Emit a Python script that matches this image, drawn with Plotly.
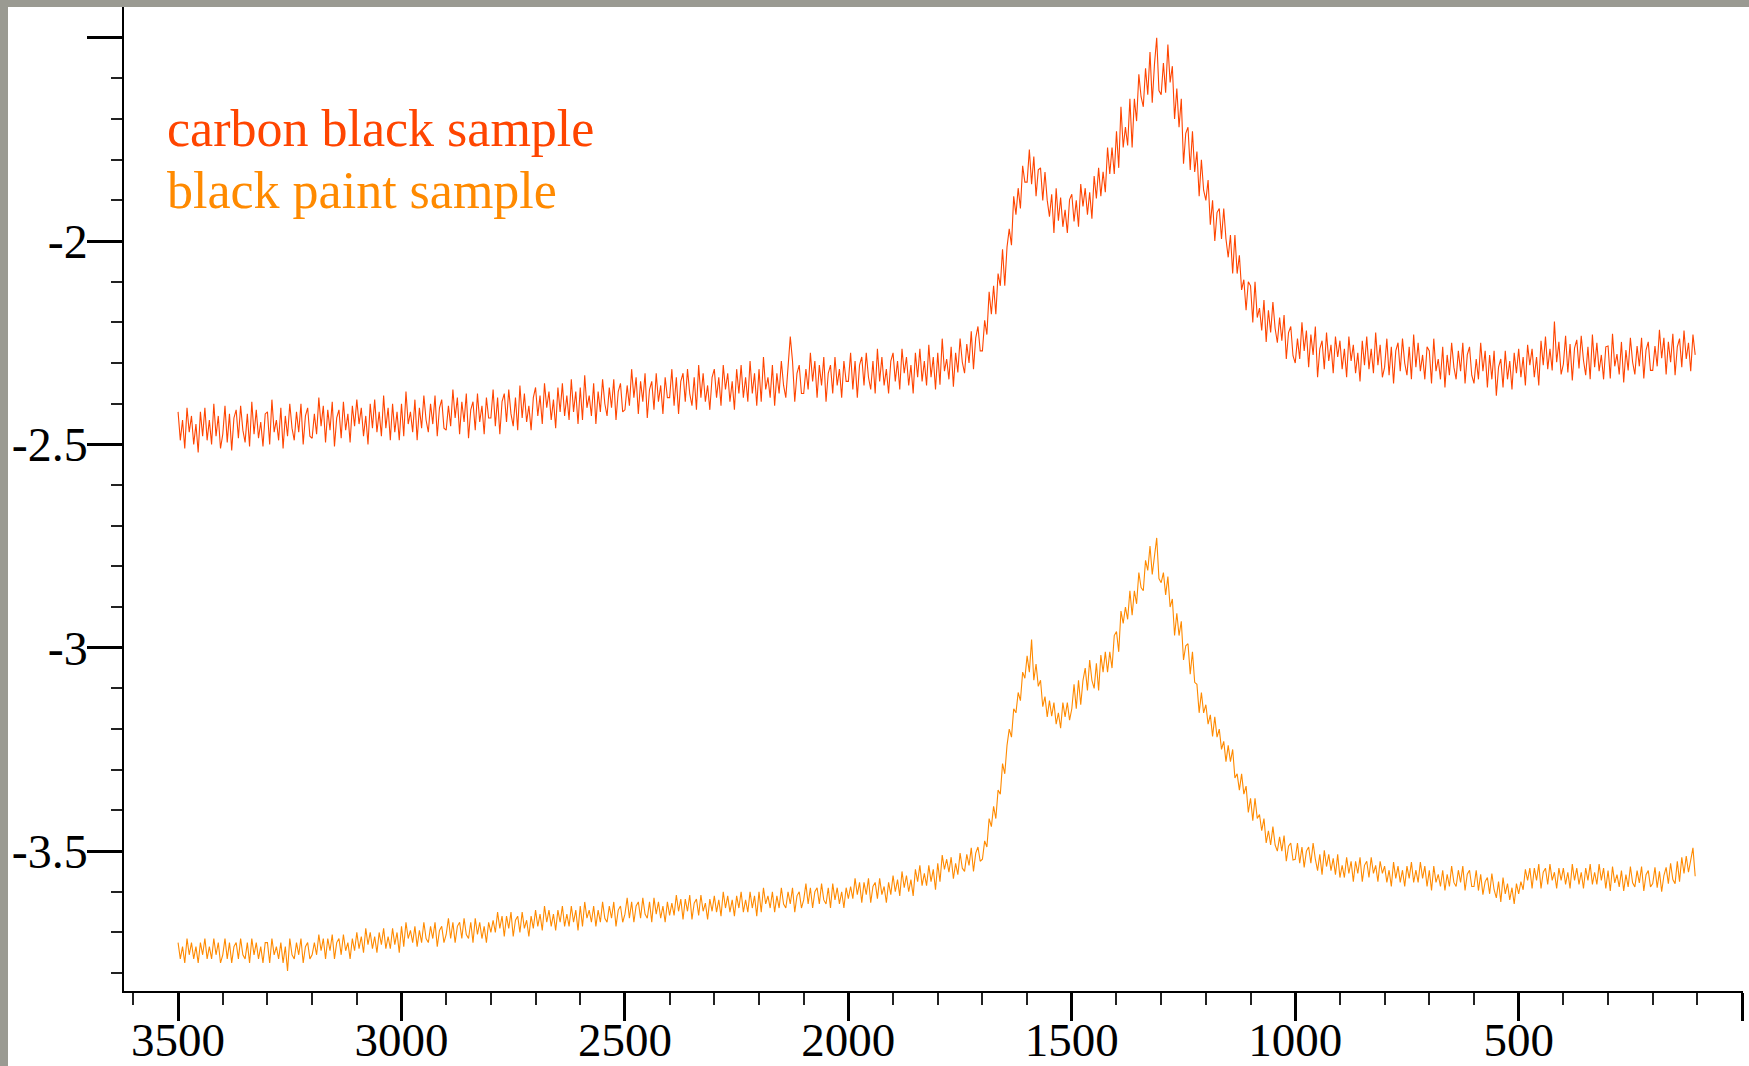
import plotly.graph_objects as go

# Spectra sampled every 5 cm-1 from 3500 down to 105 (20 samples per row = 100 cm-1)
wavenumber = list(range(3500, 100, -5))

carbon_high = [  # 3500 -> 2505
    -2.42, -2.49, -2.44, -2.51, -2.41, -2.47, -2.43, -2.50, -2.45, -2.52, -2.42, -2.48, -2.41, -2.49, -2.44, -2.50, -2.40, -2.48, -2.43, -2.51,
    -2.475, -2.405, -2.495, -2.425, -2.515, -2.435, -2.415, -2.485, -2.405, -2.465, -2.495, -2.425, -2.505, -2.395, -2.475, -2.415, -2.485, -2.445, -2.505, -2.425,
    -2.42, -2.50, -2.39, -2.47, -2.44, -2.49, -2.41, -2.51, -2.43, -2.48, -2.40, -2.46, -2.49, -2.42, -2.47, -2.40, -2.50, -2.43, -2.41, -2.48,
    -2.485, -2.425, -2.475, -2.385, -2.455, -2.405, -2.495, -2.415, -2.465, -2.395, -2.505, -2.435, -2.415, -2.485, -2.395, -2.465, -2.425, -2.495, -2.405, -2.455,
    -2.39, -2.45, -2.41, -2.48, -2.43, -2.50, -2.40, -2.46, -2.39, -2.47, -2.42, -2.48, -2.38, -2.46, -2.41, -2.49, -2.40, -2.47, -2.42, -2.49,
    -2.40, -2.48, -2.37, -2.45, -2.42, -2.47, -2.39, -2.49, -2.41, -2.46, -2.38, -2.44, -2.47, -2.40, -2.45, -2.38, -2.48, -2.41, -2.39, -2.46,
    -2.465, -2.405, -2.455, -2.365, -2.435, -2.385, -2.475, -2.395, -2.445, -2.375, -2.485, -2.415, -2.395, -2.465, -2.375, -2.445, -2.405, -2.475, -2.385, -2.435,
    -2.435, -2.365, -2.455, -2.385, -2.475, -2.395, -2.375, -2.445, -2.365, -2.425, -2.455, -2.385, -2.465, -2.355, -2.435, -2.375, -2.445, -2.405, -2.465, -2.385,
    -2.36, -2.43, -2.38, -2.45, -2.35, -2.41, -2.37, -2.44, -2.39, -2.46, -2.36, -2.42, -2.35, -2.43, -2.38, -2.44, -2.34, -2.42, -2.37, -2.45,
    -2.36, -2.44, -2.33, -2.41, -2.38, -2.43, -2.35, -2.45, -2.37, -2.42, -2.34, -2.40, -2.43, -2.36, -2.41, -2.34, -2.44, -2.37, -2.35, -2.42,
]
carbon_mid = [  # 2500 -> 1705
    -2.415, -2.355, -2.405, -2.315, -2.385, -2.335, -2.425, -2.345, -2.395, -2.325, -2.435, -2.365, -2.345, -2.415, -2.325, -2.395, -2.355, -2.425, -2.335, -2.385,
    -2.385, -2.315, -2.405, -2.335, -2.425, -2.345, -2.325, -2.395, -2.315, -2.375, -2.405, -2.335, -2.415, -2.305, -2.385, -2.325, -2.395, -2.355, -2.415, -2.335,
    -2.315, -2.385, -2.335, -2.405, -2.305, -2.365, -2.325, -2.395, -2.345, -2.415, -2.315, -2.375, -2.305, -2.385, -2.335, -2.395, -2.295, -2.375, -2.325, -2.405,
    -2.315, -2.395, -2.285, -2.365, -2.335, -2.385, -2.305, -2.405, -2.325, -2.375, -2.295, -2.355, -2.385, -2.315, -2.235, -2.295, -2.395, -2.325, -2.305, -2.375,
    -2.375, -2.315, -2.365, -2.275, -2.345, -2.295, -2.385, -2.305, -2.355, -2.285, -2.395, -2.325, -2.305, -2.375, -2.285, -2.355, -2.315, -2.385, -2.295, -2.345,
    -2.345, -2.275, -2.365, -2.295, -2.385, -2.305, -2.285, -2.355, -2.275, -2.335, -2.365, -2.295, -2.375, -2.265, -2.345, -2.285, -2.355, -2.315, -2.375, -2.295,
    -2.275, -2.345, -2.295, -2.365, -2.265, -2.325, -2.285, -2.355, -2.305, -2.375, -2.275, -2.335, -2.265, -2.345, -2.295, -2.355, -2.255, -2.335, -2.285, -2.365,
    -2.275, -2.353, -2.24, -2.32, -2.29, -2.34, -2.26, -2.358, -2.275, -2.323, -2.24, -2.298, -2.325, -2.253, -2.30, -2.222, -2.315, -2.238, -2.21, -2.27,
]
carbon_peak = [  # 1700 -> 1005
    -2.27, -2.195, -2.23, -2.125, -2.18, -2.11, -2.18, -2.08, -2.11, -2.02, -2.11, -2.015, -1.97, -2.01, -1.89, -1.935, -1.87, -1.92, -1.815, -1.855,
    -1.855, -1.775, -1.86, -1.792, -1.89, -1.825, -1.82, -1.90, -1.83, -1.90, -1.94, -1.885, -1.98, -1.87, -1.95, -1.893, -1.965, -1.923, -1.98, -1.898,
    -1.885, -1.952, -1.90, -1.965, -1.86, -1.915, -1.87, -1.935, -1.88, -1.945, -1.84, -1.895, -1.82, -1.89, -1.83, -1.88, -1.77, -1.835, -1.77, -1.835,
    -1.73, -1.82, -1.67, -1.77, -1.72, -1.765, -1.65, -1.77, -1.65, -1.705, -1.59, -1.645, -1.67, -1.575, -1.64, -1.535, -1.66, -1.565, -1.50, -1.63,
    -1.64, -1.562, -1.635, -1.517, -1.61, -1.57, -1.70, -1.625, -1.72, -1.65, -1.81, -1.735, -1.72, -1.825, -1.73, -1.83, -1.78, -1.89, -1.80, -1.875,
    -1.90, -1.85, -1.96, -1.90, -2.00, -1.93, -1.92, -1.995, -1.92, -1.995, -2.04, -1.985, -2.08, -1.985, -2.08, -2.035, -2.12, -2.095, -2.17, -2.10,
    -2.11, -2.20, -2.10, -2.188, -2.165, -2.22, -2.145, -2.248, -2.17, -2.225, -2.15, -2.215, -2.25, -2.188, -2.245, -2.182, -2.29, -2.225, -2.21, -2.282,
]
carbon_low = [  # 1000 -> 105
    -2.30, -2.24, -2.29, -2.20, -2.27, -2.22, -2.31, -2.23, -2.28, -2.21, -2.335, -2.265, -2.245, -2.315, -2.225, -2.295, -2.255, -2.325, -2.235, -2.285,
    -2.245, -2.315, -2.265, -2.335, -2.235, -2.295, -2.255, -2.325, -2.275, -2.345, -2.245, -2.305, -2.235, -2.315, -2.265, -2.325, -2.225, -2.305, -2.255, -2.335,
    -2.31, -2.24, -2.33, -2.26, -2.35, -2.27, -2.25, -2.32, -2.24, -2.30, -2.33, -2.26, -2.34, -2.23, -2.31, -2.25, -2.32, -2.28, -2.34, -2.26,
    -2.27, -2.35, -2.24, -2.32, -2.29, -2.34, -2.26, -2.36, -2.28, -2.33, -2.25, -2.31, -2.34, -2.27, -2.32, -2.25, -2.35, -2.28, -2.26, -2.33,
    -2.35, -2.29, -2.34, -2.25, -2.32, -2.27, -2.36, -2.28, -2.34, -2.27, -2.38, -2.31, -2.29, -2.36, -2.27, -2.34, -2.295, -2.365, -2.275, -2.325,
    -2.265, -2.335, -2.285, -2.355, -2.255, -2.305, -2.265, -2.335, -2.285, -2.355, -2.245, -2.305, -2.235, -2.315, -2.265, -2.318, -2.198, -2.298, -2.248, -2.328,
    -2.303, -2.233, -2.323, -2.253, -2.343, -2.263, -2.243, -2.313, -2.233, -2.293, -2.33, -2.26, -2.34, -2.23, -2.31, -2.25, -2.32, -2.28, -2.34, -2.26,
    -2.258, -2.338, -2.228, -2.308, -2.278, -2.328, -2.248, -2.348, -2.268, -2.318, -2.238, -2.298, -2.328, -2.258, -2.308, -2.238, -2.338, -2.268, -2.248, -2.318,
    -2.318, -2.258, -2.308, -2.218, -2.288, -2.238, -2.328, -2.248, -2.298, -2.228, -2.33, -2.26, -2.24, -2.31, -2.22, -2.29, -2.25, -2.32, -2.23, -2.28,
]

paint_high = [  # 3500 -> 2505
    -3.725, -3.765, -3.735, -3.775, -3.715, -3.755, -3.725, -3.765, -3.735, -3.775, -3.725, -3.755, -3.715, -3.765, -3.735, -3.765, -3.715, -3.755, -3.725, -3.775,
    -3.755, -3.715, -3.765, -3.725, -3.775, -3.735, -3.725, -3.765, -3.715, -3.755, -3.765, -3.725, -3.775, -3.715, -3.755, -3.725, -3.765, -3.735, -3.775, -3.725,
    -3.725, -3.775, -3.715, -3.755, -3.735, -3.765, -3.725, -3.775, -3.735, -3.795, -3.715, -3.755, -3.765, -3.725, -3.755, -3.715, -3.775, -3.735, -3.725, -3.765,
    -3.755, -3.725, -3.755, -3.705, -3.745, -3.715, -3.765, -3.715, -3.745, -3.705, -3.765, -3.725, -3.715, -3.755, -3.705, -3.745, -3.725, -3.765, -3.715, -3.745,
    -3.70, -3.74, -3.71, -3.75, -3.69, -3.73, -3.70, -3.74, -3.71, -3.75, -3.70, -3.73, -3.69, -3.74, -3.71, -3.74, -3.69, -3.73, -3.70, -3.75,
    -3.685, -3.735, -3.675, -3.715, -3.695, -3.725, -3.685, -3.735, -3.695, -3.725, -3.675, -3.715, -3.725, -3.685, -3.715, -3.675, -3.735, -3.695, -3.685, -3.725,
    -3.705, -3.665, -3.715, -3.675, -3.725, -3.685, -3.675, -3.715, -3.665, -3.705, -3.715, -3.675, -3.725, -3.665, -3.705, -3.675, -3.715, -3.685, -3.725, -3.675,
    -3.70, -3.67, -3.70, -3.65, -3.69, -3.66, -3.71, -3.66, -3.69, -3.65, -3.71, -3.67, -3.66, -3.70, -3.65, -3.69, -3.67, -3.71, -3.66, -3.69,
    -3.645, -3.685, -3.655, -3.695, -3.635, -3.675, -3.645, -3.685, -3.655, -3.695, -3.645, -3.675, -3.635, -3.685, -3.655, -3.685, -3.635, -3.675, -3.645, -3.695,
    -3.635, -3.685, -3.625, -3.665, -3.645, -3.675, -3.635, -3.685, -3.645, -3.675, -3.625, -3.665, -3.675, -3.635, -3.665, -3.625, -3.685, -3.645, -3.635, -3.675,
]
paint_mid = [  # 2500 -> 1705
    -3.655, -3.615, -3.665, -3.625, -3.675, -3.635, -3.625, -3.665, -3.615, -3.655, -3.665, -3.625, -3.675, -3.615, -3.655, -3.625, -3.665, -3.635, -3.675, -3.625,
    -3.658, -3.628, -3.658, -3.608, -3.648, -3.618, -3.668, -3.618, -3.648, -3.608, -3.668, -3.628, -3.618, -3.658, -3.608, -3.648, -3.628, -3.668, -3.618, -3.648,
    -3.61, -3.65, -3.62, -3.66, -3.60, -3.64, -3.61, -3.65, -3.62, -3.66, -3.61, -3.64, -3.60, -3.65, -3.62, -3.65, -3.60, -3.64, -3.61, -3.66,
    -3.60, -3.65, -3.59, -3.63, -3.61, -3.64, -3.60, -3.65, -3.61, -3.64, -3.59, -3.63, -3.64, -3.60, -3.63, -3.59, -3.65, -3.61, -3.60, -3.64,
    -3.62, -3.58, -3.63, -3.59, -3.64, -3.60, -3.59, -3.63, -3.58, -3.62, -3.63, -3.59, -3.64, -3.58, -3.62, -3.59, -3.63, -3.60, -3.64, -3.59,
    -3.617, -3.587, -3.617, -3.567, -3.607, -3.577, -3.627, -3.577, -3.607, -3.567, -3.627, -3.587, -3.577, -3.617, -3.567, -3.607, -3.587, -3.627, -3.577, -3.607,
    -3.56, -3.60, -3.57, -3.61, -3.55, -3.59, -3.56, -3.60, -3.57, -3.61, -3.545, -3.575, -3.535, -3.585, -3.555, -3.585, -3.535, -3.575, -3.545, -3.595,
    -3.53, -3.575, -3.51, -3.545, -3.52, -3.552, -3.515, -3.568, -3.53, -3.558, -3.505, -3.542, -3.55, -3.508, -3.535, -3.492, -3.55, -3.505, -3.49, -3.525,
]
paint_peak = [  # 1700 -> 1005
    -3.52, -3.475, -3.49, -3.42, -3.44, -3.39, -3.42, -3.35, -3.36, -3.285, -3.31, -3.24, -3.20, -3.22, -3.15, -3.16, -3.11, -3.13, -3.06, -3.075,
    -3.02, -3.06, -2.98, -3.08, -3.04, -3.095, -3.08, -3.145, -3.12, -3.17, -3.13, -3.168, -3.135, -3.188, -3.16, -3.198, -3.135, -3.17, -3.135, -3.178,
    -3.15, -3.09, -3.15, -3.08, -3.14, -3.08, -3.05, -3.105, -3.03, -3.08, -3.10, -3.038, -3.105, -3.018, -3.06, -3.01, -3.06, -3.01, -3.05, -2.97,
    -2.96, -3.01, -2.91, -2.94, -2.90, -2.93, -2.86, -2.92, -2.86, -2.892, -2.815, -2.852, -2.86, -2.785, -2.81, -2.75, -2.82, -2.775, -2.73, -2.83,
    -2.84, -2.815, -2.87, -2.825, -2.90, -2.88, -2.97, -2.915, -2.97, -2.935, -3.03, -2.995, -2.99, -3.065, -3.01, -3.085, -3.09, -3.16, -3.11, -3.16,
    -3.14, -3.188, -3.165, -3.218, -3.17, -3.22, -3.20, -3.25, -3.23, -3.28, -3.24, -3.28, -3.25, -3.32, -3.31, -3.35, -3.31, -3.36, -3.34, -3.405,
    -3.37, -3.425, -3.37, -3.42, -3.41, -3.45, -3.42, -3.48, -3.45, -3.485, -3.44, -3.485, -3.50, -3.465, -3.50, -3.462, -3.525, -3.488, -3.48, -3.522,
]
paint_low = [  # 1000 -> 105
    -3.52, -3.48, -3.53, -3.49, -3.54, -3.50, -3.49, -3.53, -3.48, -3.52, -3.548, -3.508, -3.558, -3.498, -3.538, -3.508, -3.548, -3.518, -3.558, -3.508,
    -3.565, -3.535, -3.565, -3.515, -3.555, -3.525, -3.575, -3.525, -3.555, -3.515, -3.575, -3.535, -3.525, -3.565, -3.515, -3.555, -3.535, -3.575, -3.525, -3.555,
    -3.537, -3.577, -3.547, -3.587, -3.527, -3.567, -3.537, -3.577, -3.547, -3.587, -3.537, -3.567, -3.527, -3.577, -3.547, -3.577, -3.527, -3.567, -3.537, -3.587,
    -3.547, -3.597, -3.537, -3.577, -3.557, -3.587, -3.547, -3.597, -3.557, -3.587, -3.537, -3.577, -3.587, -3.547, -3.577, -3.537, -3.597, -3.557, -3.547, -3.587,
    -3.587, -3.547, -3.597, -3.557, -3.607, -3.575, -3.565, -3.605, -3.555, -3.595, -3.615, -3.575, -3.625, -3.565, -3.605, -3.58, -3.62, -3.59, -3.63, -3.58,
    -3.605, -3.575, -3.595, -3.545, -3.572, -3.542, -3.592, -3.542, -3.572, -3.532, -3.592, -3.552, -3.542, -3.582, -3.532, -3.572, -3.552, -3.592, -3.542, -3.572,
    -3.542, -3.582, -3.552, -3.592, -3.532, -3.572, -3.542, -3.582, -3.552, -3.592, -3.542, -3.572, -3.532, -3.582, -3.552, -3.582, -3.532, -3.572, -3.542, -3.592,
    -3.548, -3.598, -3.538, -3.578, -3.558, -3.588, -3.548, -3.598, -3.558, -3.588, -3.538, -3.578, -3.588, -3.548, -3.578, -3.538, -3.598, -3.558, -3.548, -3.588,
    -3.58, -3.54, -3.59, -3.55, -3.60, -3.56, -3.54, -3.58, -3.53, -3.57, -3.58, -3.525, -3.575, -3.515, -3.555, -3.512, -3.552, -3.522, -3.492, -3.562,
]

carbon_black = carbon_high + carbon_mid + carbon_peak + carbon_low
black_paint = paint_high + paint_mid + paint_peak + paint_low

series_names = ["carbon black sample", "black paint sample"]
series_colors = ["#FF4500", "#FF8A00"]

x_tickvals = [3500, 3000, 2500, 2000, 1500, 1000, 500, 0]
x_ticktext = ["3500", "3000", "2500", "2000", "1500", "1000", "500", ""]
y_tickvals = [-1.5, -2, -2.5, -3, -3.5]
y_ticktext = ["", "-2", "-2.5", "-3", "-3.5"]

W, H = 1749, 1066
ML, MR, MT, MB = 124, 6, 7, 75
PW, PH = W - ML - MR, H - MT - MB


def px_x(p):
    return (p - ML) / PW


def px_y(p):
    return (H - MB - p) / PH


fig = go.Figure()
for vals, name, col in zip([carbon_black, black_paint], series_names, series_colors):
    fig.add_trace(go.Scatter(x=wavenumber, y=vals, mode="lines", name=name,
                             line=dict(color=col, width=1.1), showlegend=False))

serif = "Liberation Serif, Times New Roman, serif"
fig.update_layout(
    width=W, height=H,
    margin=dict(l=ML, r=MR, t=MT, b=MB, pad=0, autoexpand=False),
    paper_bgcolor="white", plot_bgcolor="white",
    font=dict(family=serif, color="black"),
    xaxis=dict(range=[3621, -2], showgrid=False, zeroline=False, automargin=False,
               showline=True, linecolor="black", linewidth=1.5,
               tickmode="array", tickvals=x_tickvals, ticktext=x_ticktext,
               ticks="outside", ticklen=28, tickwidth=3, tickcolor="black",
               ticklabelstandoff=-21,
               tickfont=dict(family=serif, size=47, color="black"),
               minor=dict(tick0=0, dtick=100, ticks="outside", ticklen=12,
                          tickwidth=1.5, tickcolor="#222")),
    yaxis=dict(range=[-3.844, -1.4245], showgrid=False, zeroline=False, automargin=False,
               showline=True, linecolor="black", linewidth=1.5,
               tickmode="array", tickvals=y_tickvals, ticktext=y_ticktext,
               ticks="outside", ticklen=35, tickwidth=3, tickcolor="black",
               ticklabelstandoff=-10,
               tickfont=dict(family=serif, size=48, color="black"),
               minor=dict(tick0=0, dtick=0.1, ticks="outside", ticklen=11,
                          tickwidth=1.5, tickcolor="#222")),
)

# gray frame at the top and left edges
gray = "#9A9A92"
fig.add_shape(type="rect", xref="paper", yref="paper", layer="above",
              x0=px_x(0), x1=px_x(W), y0=px_y(7), y1=px_y(0),
              fillcolor=gray, line=dict(width=0))
fig.add_shape(type="rect", xref="paper", yref="paper", layer="above",
              x0=px_x(0), x1=px_x(8), y0=px_y(H), y1=px_y(0),
              fillcolor=gray, line=dict(width=0))

legend_y = [128.5, 190.5]
for name, col, yy in zip(series_names, series_colors, legend_y):
    fig.add_annotation(text=name, xref="paper", yref="paper",
                       x=px_x(165), y=px_y(yy), xanchor="left", yanchor="middle",
                       showarrow=False,
                       font=dict(family=serif, size=52, color=col))

fig.write_html("out.html",
               config={"displayModeBar": False},
               post_script="document.body.style.margin='0px';"
                           "document.body.style.overflow='hidden';")
